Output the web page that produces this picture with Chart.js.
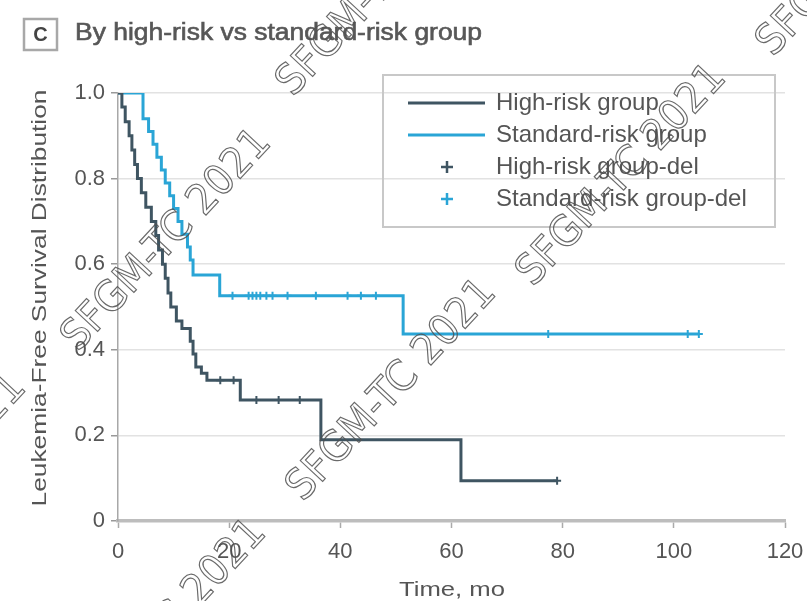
<!DOCTYPE html>
<html><head><meta charset="utf-8">
<script src="https://cdn.jsdelivr.net/npm/chart.js@4.4.1/dist/chart.umd.min.js"></script>
<style>html,body{margin:0;padding:0;background:#fff;}#wrap{position:relative;width:807px;height:601px;}</style>
</head><body><div id="wrap"><canvas id="c" width="807" height="601"></canvas></div>
<script>
// ---- data ----
const xTicks = [0, 20, 40, 60, 80, 100, 120];
const yTickLabels = ['0', '0.2', '0.4', '0.6', '0.8', '1.0'];
const seriesNames = ['High-risk group', 'Standard-risk group', 'High-risk group-del', 'Standard-risk group-del'];
const panelLetter = 'C';
const panelTitle = 'By high-risk vs standard-risk group';
const xTitle = 'Time, mo';
const yTitle = 'Leukemia-Free Survival Distribution';
const watermarkText = 'SFGM-TC 2021';

const highTimes = [0, 0.7, 1.3, 2.0, 2.5, 3.0, 3.5, 4.2, 5.0, 6.0, 6.8, 7.3, 8.0, 8.5, 9.0, 9.5, 10.5, 11.5, 13.0, 13.5, 14.0, 15.0, 16.0, 22.0, 36.5, 61.7, 79.0];
const highSurv  = [1.0, 0.967, 0.933, 0.90, 0.867, 0.833, 0.80, 0.767, 0.733, 0.70, 0.667, 0.633, 0.60, 0.567, 0.533, 0.50, 0.467, 0.45, 0.42, 0.39, 0.36, 0.345, 0.329, 0.283, 0.19, 0.094, 0.094];
const stdTimes  = [0, 4.5, 5.5, 6.3, 7.0, 7.8, 8.5, 9.3, 10.0, 10.8, 11.5, 12.5, 13.0, 13.5, 18.3, 51.3, 104.5];
const stdSurv   = [1.0, 0.94, 0.91, 0.88, 0.85, 0.82, 0.79, 0.76, 0.73, 0.70, 0.67, 0.64, 0.61, 0.575, 0.526, 0.437, 0.437];

const highCensorTimes = [18.4, 20.8, 24.9, 28.9, 32.7, 79.0];
const highCensorSurv  = [0.329, 0.329, 0.283, 0.283, 0.283, 0.094];
const stdCensorTimes  = [20.6, 23.5, 24.2, 24.9, 25.6, 26.7, 27.8, 30.5, 35.6, 41.3, 43.7, 46.4, 77.4, 102.5, 104.5];
const stdCensorSurv   = [0.526, 0.526, 0.526, 0.526, 0.526, 0.526, 0.526, 0.526, 0.526, 0.526, 0.526, 0.526, 0.437, 0.437, 0.437];

// ---- styles ----
const COL_HIGH = '#3f5562';
const COL_STD = '#2aa5d6';
const TXT = '#555';
const FONT_FAM = '"Liberation Sans",Arial,sans-serif';

const pts = (ts, vs) => ts.map((t, i) => ({ x: t, y: vs[i] }));

function fitText(ctx, text, x, y, w, align, strokeW) {
  const m = ctx.measureText(text).width;
  const sx = w / m;
  ctx.save();
  ctx.translate(x, y);
  ctx.scale(sx, 1);
  ctx.textAlign = 'left';
  let ox = 0;
  if (align === 'center') ox = -m / 2;
  ctx.fillText(text, ox, 0);
  if (strokeW) {
    ctx.lineWidth = strokeW;
    ctx.strokeStyle = ctx.fillStyle;
    ctx.strokeText(text, ox, 0);
  }
  ctx.restore();
}

const decor = {
  id: 'decor',
  afterDraw(chart) {
    const ctx = chart.ctx;
    ctx.save();
    // panel letter box
    ctx.strokeStyle = '#a8a8a8';
    ctx.lineWidth = 2.5;
    ctx.strokeRect(24, 19, 33, 31);
    ctx.fillStyle = '#444';
    ctx.font = 'bold 20px ' + FONT_FAM;
    ctx.textBaseline = 'middle';
    ctx.textAlign = 'center';
    ctx.fillText(panelLetter, 40.5, 35);
    // title
    ctx.fillStyle = '#575757';
    ctx.font = '23px ' + FONT_FAM;
    fitText(ctx, panelTitle, 75, 34, 407, 'left', 0.6);
    // axis titles
    ctx.fillStyle = TXT;
    ctx.font = '21px ' + FONT_FAM;
    fitText(ctx, xTitle, 452, 590, 106, 'center');
    ctx.save();
    ctx.translate(40, 298);
    ctx.rotate(-Math.PI / 2);
    fitText(ctx, yTitle, 0, 0, 417, 'center');
    ctx.restore();
    // legend
    ctx.strokeStyle = '#c8c8c8';
    ctx.lineWidth = 2;
    ctx.strokeRect(383, 75, 392, 152);
    const ds = chart.data.datasets;
    const rows = [103, 135, 167, 199];
    ctx.font = '24px ' + FONT_FAM;
    ds.forEach((d, i) => {
      const y = rows[i];
      ctx.strokeStyle = d.borderColor;
      if (d.type === 'line') {
        ctx.lineWidth = 3;
        ctx.beginPath();
        ctx.moveTo(408, y);
        ctx.lineTo(485, y);
        ctx.stroke();
      } else {
        ctx.lineWidth = 2.5;
        ctx.beginPath();
        ctx.moveTo(441, y); ctx.lineTo(453, y);
        ctx.moveTo(447, y - 6); ctx.lineTo(447, y + 6);
        ctx.stroke();
      }
      ctx.fillStyle = TXT;
      ctx.textAlign = 'left';
      ctx.textBaseline = 'middle';
      ctx.fillText(d.label, 496, y);
    });
    // watermarks
    const starts = [[70, 345], [285, 90], [525, 280], [295, 495], [65, 735], [765, 50], [-175, 590]];
    ctx.font = '42px "DejaVu Sans",sans-serif';
    ctx.strokeStyle = 'rgba(80,80,80,0.85)';
    ctx.lineWidth = 1.2;
    const m = ctx.measureText(watermarkText).width;
    starts.forEach(([x, y]) => {
      ctx.save();
      ctx.translate(x, y);
      ctx.rotate(-47 * Math.PI / 180);
      ctx.scale(285 / m, 1);
      ctx.textAlign = 'left';
      ctx.textBaseline = 'middle';
      ctx.strokeText(watermarkText, 0, 0);
      ctx.restore();
    });
    ctx.restore();
  }
};

new Chart(document.getElementById('c'), {
  data: {
    datasets: [
      { type: 'line', label: seriesNames[0], data: pts(highTimes, highSurv), borderColor: COL_HIGH, backgroundColor: COL_HIGH, borderWidth: 3, stepped: 'before', pointRadius: 0, fill: false, order: 2 },
      { type: 'line', label: seriesNames[1], data: pts(stdTimes, stdSurv), borderColor: COL_STD, backgroundColor: COL_STD, borderWidth: 3, stepped: 'before', pointRadius: 0, fill: false, order: 2 },
      { type: 'scatter', label: seriesNames[2], data: pts(highCensorTimes, highCensorSurv), borderColor: COL_HIGH, backgroundColor: COL_HIGH, pointStyle: 'cross', pointRadius: 4, borderWidth: 2, order: 1 },
      { type: 'scatter', label: seriesNames[3], data: pts(stdCensorTimes, stdCensorSurv), borderColor: COL_STD, backgroundColor: COL_STD, pointStyle: 'cross', pointRadius: 4, borderWidth: 2, order: 1 }
    ]
  },
  options: {
    responsive: false,
    animation: false,
    layout: { padding: { top: 93, right: 22, left: 0, bottom: 0 } },
    plugins: { legend: { display: false }, tooltip: { enabled: false }, title: { display: false } },
    scales: {
      x: {
        type: 'linear', min: 0, max: 120,
        afterBuildTicks: s => { s.ticks = xTicks.map(v => ({ value: v })); },
        afterFit: s => { s.height = 80; s.paddingRight = 0; s.paddingLeft = 0; },
        ticks: { color: TXT, font: { family: FONT_FAM, size: 22 }, padding: 11, maxRotation: 0, autoSkip: false },
        grid: { display: true, drawOnChartArea: false, tickLength: 7, tickColor: '#aaa', tickWidth: 1.5 },
        border: { display: true, color: '#bdbdbd', width: 3.5 }
      },
      y: {
        type: 'linear', min: 0, max: 1,
        afterBuildTicks: s => { s.ticks = yTickLabels.map((l, i) => ({ value: i * 0.2 })); },
        afterFit: s => { s.width = 118; s.paddingTop = 0; s.paddingBottom = 0; },
        ticks: { color: TXT, font: { family: FONT_FAM, size: 22 }, padding: 6, callback: (v, i) => yTickLabels[i] },
        grid: { display: true, color: '#e2e2e2', lineWidth: 1.5, tickLength: 7, tickColor: '#999', tickWidth: 1.5 },
        border: { display: true, color: '#a8a8a8', width: 1.5 }
      }
    }
  },
  plugins: [decor]
});
</script>
</body></html>
